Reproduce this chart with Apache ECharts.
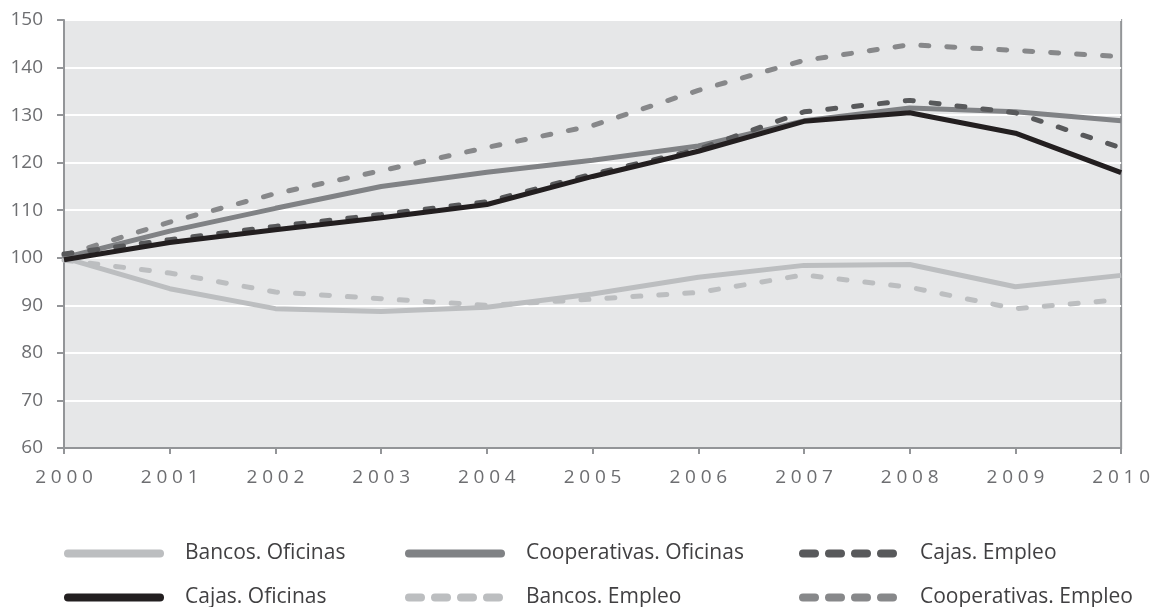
<!DOCTYPE html>
<html>
<head>
<meta charset="utf-8">
<script src="https://cdn.jsdelivr.net/npm/echarts@6/dist/echarts.min.js"></script>
<style>
  html, body { margin: 0; padding: 0; background: #fff; }
  #chart { width: 1153px; height: 607px; }
</style>
</head>
<body>
<div id="chart"></div>
<script>
// data
const years = ['2000', '2001', '2002', '2003', '2004', '2005', '2006', '2007', '2008', '2009', '2010']
const bancosOficinas = [100, 93.5, 89.3, 88.7, 89.6, 92.4, 95.9, 98.4, 98.6, 93.9, 96.3]
const cajasOficinas = [99.6, 103.2, 105.9, 108.4, 111.2, 117.1, 122.4, 128.7, 130.5, 126.2, 117.9]
const coopOficinas = [100, 105.6, 110.4, 115, 118, 120.5, 123.5, 128.8, 131.5, 130.7, 128.8]
const bancosEmpleo = [99.5, 96.8, 92.8, 91.4, 90, 91.3, 92.7, 96.4, 93.8, 89.3, 91.2]
const cajasEmpleo = [100.8, 103.8, 106.6, 109.1, 111.8, 117.6, 122.8, 130.7, 133.1, 130.5, 123.1]
const coopEmpleo = [100.5, 107.5, 113.5, 118.3, 123.2, 127.8, 135.2, 141.5, 144.8, 143.6, 142.3]

const FONT = '"Open Sans", Lato, sans-serif'

function line(name, data, color, dashed, z) {
  return {
    name: name,
    type: 'line',
    data: data,
    symbol: 'none',
    z: z,
    lineStyle: {
      color: color,
      width: 5,
      type: dashed ? [8, 18] : 'solid',
      cap: dashed ? 'round' : 'butt'
    },
    itemStyle: { color: color }
  }
}

// one legend per cell so the 3x2 layout is fixed
function legendItem(left, top, name, dashed) {
  return {
    left: left,
    top: top,
    padding: 0,
    itemWidth: 92,
    itemHeight: 14,
    data: [name],
    selectedMode: false,
    itemStyle: { opacity: 0 },
    lineStyle: { width: 8, cap: 'round', type: dashed ? [12, 14] : 'solid' },
    textStyle: {
      fontFamily: FONT,
      fontSize: 21,
      color: '#414042',
      padding: [0, 0, 0, 20]
    }
  }
}

const chart = echarts.init(document.getElementById('chart'))
chart.setOption({
  animation: false,
  grid: {
    left: 64,
    right: 28,
    top: 20,
    bottom: 159,
    show: true,
    backgroundColor: '#e6e7e8',
    borderColor: '#939598',
    borderWidth: 2
  },
  xAxis: {
    type: 'category',
    data: years,
    boundaryGap: false,
    axisLine: { lineStyle: { color: '#939598', width: 2 } },
    axisTick: { show: true, length: 6, lineStyle: { color: '#939598', width: 2 } },
    axisLabel: {
      color: '#6d6e71',
      fontFamily: FONT,
      fontSize: 19,
      margin: 20,
      formatter: v => v.split('').join('\u2005')
    },
    splitLine: { show: false }
  },
  yAxis: {
    type: 'value',
    min: 60,
    max: 150,
    interval: 10,
    axisLine: { show: true, lineStyle: { color: '#939598', width: 2 } },
    axisTick: { show: true, length: 7, lineStyle: { color: '#939598', width: 2 } },
    axisLabel: {
      color: '#6d6e71',
      fontFamily: FONT,
      fontSize: 19,
      margin: 21
    },
    splitLine: { lineStyle: { color: '#ffffff', width: 2 } }
  },
  legend: [
    legendItem(64, 543, 'Bancos. Oficinas', false),
    legendItem(64, 587, 'Cajas. Oficinas', false),
    legendItem(405, 543, 'Cooperativas. Oficinas', false),
    legendItem(405, 587, 'Bancos. Empleo', true),
    legendItem(799, 543, 'Cajas. Empleo', true),
    legendItem(799, 587, 'Cooperativas. Empleo', true)
  ],
  series: [
    line('Bancos. Oficinas', bancosOficinas, '#bcbec0', false, 2),
    line('Cajas. Oficinas', cajasOficinas, '#231f20', false, 8),
    line('Cooperativas. Oficinas', coopOficinas, '#808285', false, 3),
    line('Bancos. Empleo', bancosEmpleo, '#bcbec0', true, 4),
    line('Cajas. Empleo', cajasEmpleo, '#58595b', true, 6),
    line('Cooperativas. Empleo', coopEmpleo, '#87888a', true, 5)
  ]
})
</script>
</body>
</html>
